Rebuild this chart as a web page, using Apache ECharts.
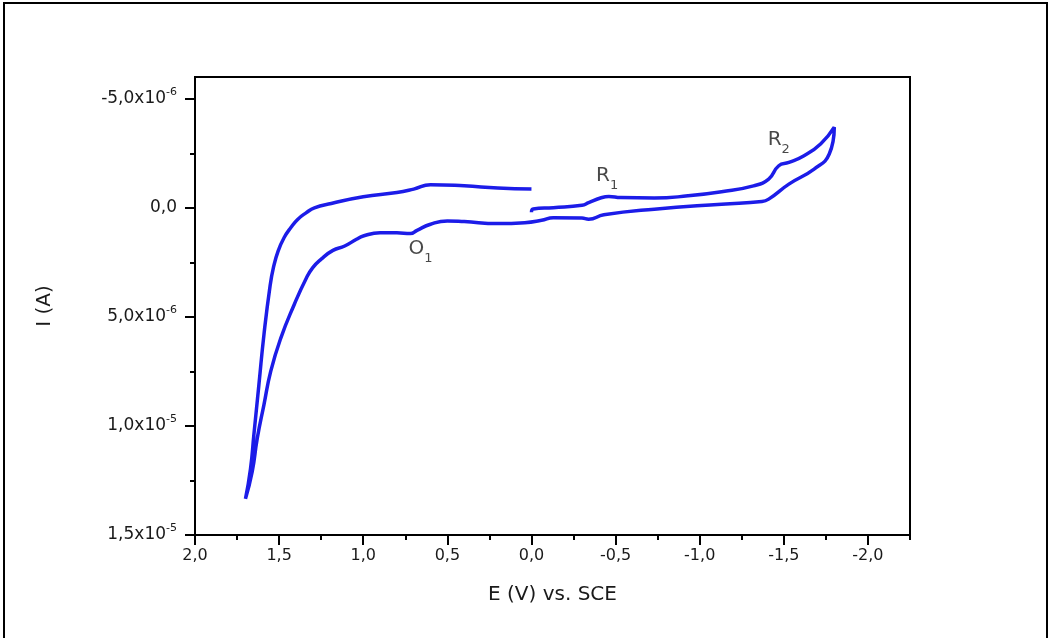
<!DOCTYPE html>
<html>
<head>
<meta charset="utf-8">
<title>Cyclic voltammogram</title>
<script src="https://cdn.jsdelivr.net/npm/echarts@6/dist/echarts.min.js"></script>
<style>
  html, body { margin: 0; padding: 0; background: #fff; }
  #chart { width: 1051px; height: 638px; }
</style>
</head>
<body>
<div id="chart"></div>
<script>
// potentials in V, currents in units of 1e-6 A (negative = cathodic, drawn upward)
// scan 1: 0.0 V -> -1.80 V (cathodic, upper right branch)
const cathodicE = [0.0, -0.01, -0.13, -0.30, -0.34, -0.41, -0.46, -0.53, -0.73, -0.93, -1.13, -1.32, -1.41, -1.47, -1.53, -1.62, -1.72, -1.80]
const cathodicI = [0.2, 0.05, -0.01, -0.12, -0.24, -0.45, -0.52, -0.47, -0.45, -0.55, -0.74, -1.01, -1.32, -1.93, -2.08, -2.39, -2.94, -3.7]
// scan 2: -1.80 V -> +1.70 V (anodic, lower branch)
const anodicE = [-1.77, -1.68, -1.53, -1.41, -1.37, -1.13, -0.73, -0.43, -0.34, -0.30, -0.13, -0.06, 0.04, 0.20, 0.40, 0.50, 0.60, 0.68, 0.72, 0.80, 0.90, 1.00, 1.04, 1.11, 1.18, 1.25, 1.30, 1.34, 1.41, 1.49, 1.55, 1.59, 1.63, 1.66, 1.70]
const anodicI = [-2.47, -1.78, -1.09, -0.40, -0.29, -0.17, 0.06, 0.32, 0.52, 0.47, 0.45, 0.57, 0.68, 0.72, 0.63, 0.60, 0.75, 1.03, 1.18, 1.14, 1.14, 1.29, 1.44, 1.75, 1.95, 2.35, 2.74, 3.25, 4.43, 5.97, 7.50, 9.02, 10.57, 12.10, 13.34]
// scan 3: +1.70 V -> 0.0 V (back to start, upper left branch)
const returnE = [1.67, 1.65, 1.62, 1.59, 1.554, 1.533, 1.506, 1.47, 1.43, 1.39, 1.34, 1.29, 1.19, 1.00, 0.80, 0.70, 0.60, 0.40, 0.20, 0.0]
const returnI = [11.96, 10.40, 8.10, 5.80, 3.59, 2.71, 1.98, 1.36, 0.90, 0.53, 0.23, 0.0, -0.20, -0.51, -0.70, -0.86, -1.06, -1.01, -0.91, -0.86]

// peak labels
const peakNames = ['O', 'R', 'R']
const peakIndex = ['1', '1', '2']
const peakE = [0.66, -0.45, -1.47]
const peakI = [2.02, -1.33, -2.99]

// ticks
const xMajorTicks = [2.0, 1.5, 1.0, 0.5, 0.0, -0.5, -1.0, -1.5, -2.0]
const xMinorTicks = [1.75, 1.25, 0.75, 0.25, -0.25, -0.75, -1.25, -1.75, -2.25]
const yMajorTicks = [-5, 0, 5, 10, 15]
const yMinorTicks = [-2.5, 2.5, 7.5, 12.5]

const curve = []
cathodicE.forEach((e, i) => curve.push([e, cathodicI[i]]))
anodicE.forEach((e, i) => curve.push([e, anodicI[i]]))
returnE.forEach((e, i) => curve.push([e, returnI[i]]))

const peaks = peakE.map((e, i) => ({
  value: [e, peakI[i]],
  label: { formatter: '{b|' + peakNames[i] + '}{s|' + peakIndex[i] + '}' }
}))

function comma(v) {
  return v.toFixed(1).replace('.', ',')
}

function yLabel(v) {
  if (v === 0) return '{b|0,0}'
  if (Math.abs(v) >= 10) return '{b|' + comma(v / 10) + 'x10}{s|-5}'
  return '{b|' + comma(v) + 'x10}{s|-6}'
}

const textColor = '#1a1a1a'
const font = 'DejaVu Sans, sans-serif'

const chart = echarts.init(document.getElementById('chart'))
chart.setOption({
  animation: false,
  textStyle: { fontFamily: font },
  graphic: [{
    type: 'polyline',
    shape: { points: [[4, 638], [4, 3], [1047, 3], [1047, 638]] },
    style: { stroke: '#000', lineWidth: 2, fill: null }
  }],
  grid: {
    left: 195,
    right: 141,
    top: 77,
    bottom: 103,
    show: true,
    borderColor: '#000',
    borderWidth: 2
  },
  xAxis: [
    {
      type: 'value',
      min: -2.25,
      max: 2.0,
      inverse: true,
      name: 'E (V) vs. SCE',
      nameLocation: 'middle',
      nameGap: 50,
      nameTextStyle: { fontSize: 20, color: textColor, fontFamily: font },
      splitLine: { show: false },
      axisLine: { onZero: false, lineStyle: { color: '#000', width: 2 } },
      axisTick: { customValues: xMajorTicks, length: 10, lineStyle: { color: '#000', width: 2 } },
      axisLabel: {
        customValues: xMajorTicks,
        margin: 13,
        fontSize: 16,
        color: textColor,
        formatter: v => comma(v)
      }
    },
    {
      type: 'value',
      min: -2.25,
      max: 2.0,
      inverse: true,
      position: 'bottom',
      splitLine: { show: false },
      axisLine: { show: false, onZero: false },
      axisTick: { customValues: xMinorTicks, length: 5, lineStyle: { color: '#000', width: 2 } },
      axisLabel: { show: false }
    }
  ],
  yAxis: [
    {
      type: 'value',
      min: -6,
      max: 15,
      inverse: true,
      name: 'I (A)',
      nameLocation: 'middle',
      nameGap: 140,
      nameTextStyle: { fontSize: 20, color: textColor, fontFamily: font },
      splitLine: { show: false },
      axisLine: { onZero: false, lineStyle: { color: '#000', width: 2 } },
      axisTick: { customValues: yMajorTicks, length: 10, lineStyle: { color: '#000', width: 2 } },
      axisLabel: {
        customValues: yMajorTicks,
        margin: 18,
        formatter: yLabel,
        rich: {
          b: { fontSize: 17, color: textColor, fontFamily: font, lineHeight: 24 },
          s: { fontSize: 11, color: textColor, fontFamily: font, lineHeight: 14, verticalAlign: 'top' }
        }
      }
    },
    {
      type: 'value',
      min: -6,
      max: 15,
      inverse: true,
      position: 'left',
      splitLine: { show: false },
      axisLine: { show: false, onZero: false },
      axisTick: { customValues: yMinorTicks, length: 5, lineStyle: { color: '#000', width: 2 } },
      axisLabel: { show: false }
    }
  ],
  series: [
    {
      name: 'CV',
      type: 'line',
      data: curve,
      smooth: 0.5,
      showSymbol: false,
      lineStyle: { color: '#1c1ce8', width: 3.5 },
      z: 3
    },
    {
      name: 'peaks',
      type: 'scatter',
      data: peaks,
      symbolSize: 0,
      silent: true,
      label: {
        show: true,
        position: 'inside',
        rich: {
          b: { fontSize: 20, color: textColor, fontFamily: font, lineHeight: 26, verticalAlign: 'top' },
          s: { fontSize: 13, color: textColor, fontFamily: font, lineHeight: 26, verticalAlign: 'bottom' }
        }
      }
    }
  ]
})
</script>
</body>
</html>
